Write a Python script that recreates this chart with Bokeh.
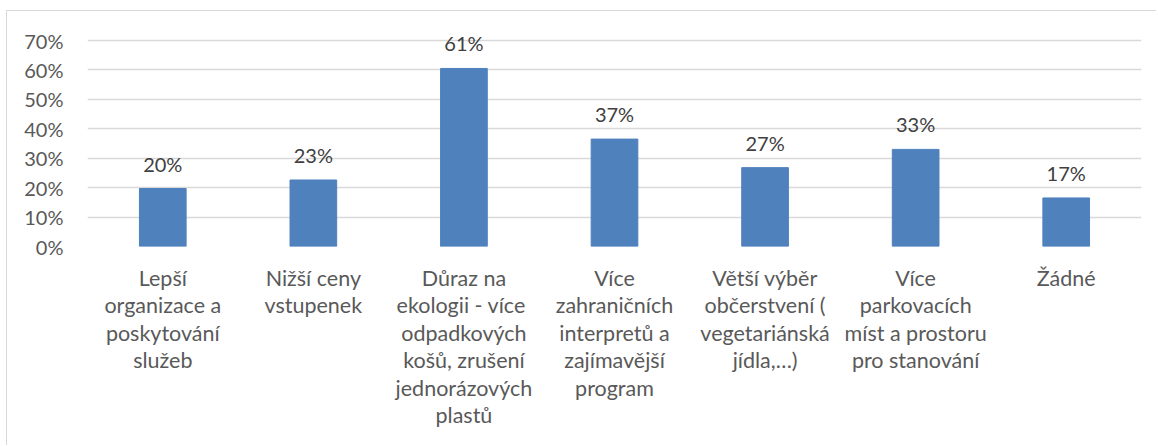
from bokeh.plotting import figure
from bokeh.models import ColumnDataSource, FixedTicker, LabelSet, NumeralTickFormatter
from bokeh.core.properties import value
from bokeh.embed import file_html
from bokeh.resources import INLINE

categories = [
    "Lepší\norganizace a\nposkytování\nslužeb",
    "Nižší ceny\nvstupenek",
    "Důraz na\nekologii -  více\nodpadkových\nkošů, zrušení\njednorázových\nplastů",
    "Více\nzahraničních\ninterpretů a\nzajímavější\nprogram",
    "Větší výběr\nobčerstvení (\nvegetariánská\njídla,…)",
    "Více\nparkovacích\nmíst a prostoru\npro stanování",
    "Žádné",
]
values = [0.197, 0.226, 0.605, 0.365, 0.268, 0.330, 0.165]
value_labels = ["20%", "23%", "61%", "37%", "27%", "33%", "17%"]
y_ticks = [0, 0.1, 0.2, 0.3, 0.4, 0.5, 0.6, 0.7]

FONT = "Lato"
xs = list(range(len(categories)))
src = ColumnDataSource(dict(x=xs, top=values, lab=value_labels))

H, TOP, BOTTOM = 435, 8, 200
frame_h = H - TOP - BOTTOM
y_end = 0.7 * frame_h / 206.0

p = figure(width=1150, height=H, output_backend="svg", toolbar_location=None,
           x_range=(-0.5, len(categories) - 0.5), y_range=(0, y_end),
           min_border_left=80, min_border_right=16, min_border_top=TOP, min_border_bottom=BOTTOM)
p.styles = {"margin-left": "6px", "margin-top": "10px",
            "border-top": "1px solid #D9D9D9", "border-left": "1px solid #D9D9D9"}
p.outline_line_color = None
p.background_fill_color = "white"
p.border_fill_color = "white"

p.vbar(x="x", top="top", width=0.31, source=src, fill_color="#4F81BD", line_color="#4F81BD")

labels = LabelSet(x="x", y="top", text="lab", source=src, text_align="center",
                  text_baseline="bottom", y_offset=13, text_font=value(FONT),
                  text_font_size="20px", text_color="#404040", level="overlay")
p.add_layout(labels)

p.yaxis.ticker = FixedTicker(ticks=y_ticks)
p.yaxis.formatter = NumeralTickFormatter(format="0%")
p.yaxis.axis_line_color = None
p.yaxis.major_tick_line_color = None
p.yaxis.minor_tick_line_color = None
p.yaxis.major_label_text_font = FONT
p.yaxis.major_label_text_font_size = "20px"
p.yaxis.major_label_text_color = "#595959"
p.yaxis.major_label_standoff = 18

p.xaxis.ticker = FixedTicker(ticks=xs)
p.xaxis.major_label_overrides = {i: c for i, c in enumerate(categories)}
p.xaxis.axis_line_color = None
p.xaxis.major_tick_line_color = None
p.xaxis.minor_tick_line_color = None
p.xaxis.major_label_text_font = FONT
p.xaxis.major_label_text_font_size = "21.5px"
p.xaxis.major_label_text_line_height = 1.06
p.xaxis.major_label_text_color = "#595959"
p.xaxis.major_label_standoff = 12

p.xgrid.grid_line_color = None
p.ygrid.ticker = FixedTicker(ticks=y_ticks)
p.ygrid.grid_line_color = "#D9D9D9"
p.ygrid.grid_line_width = 1.5

open("out.html", "w").write(file_html(p, INLINE))
